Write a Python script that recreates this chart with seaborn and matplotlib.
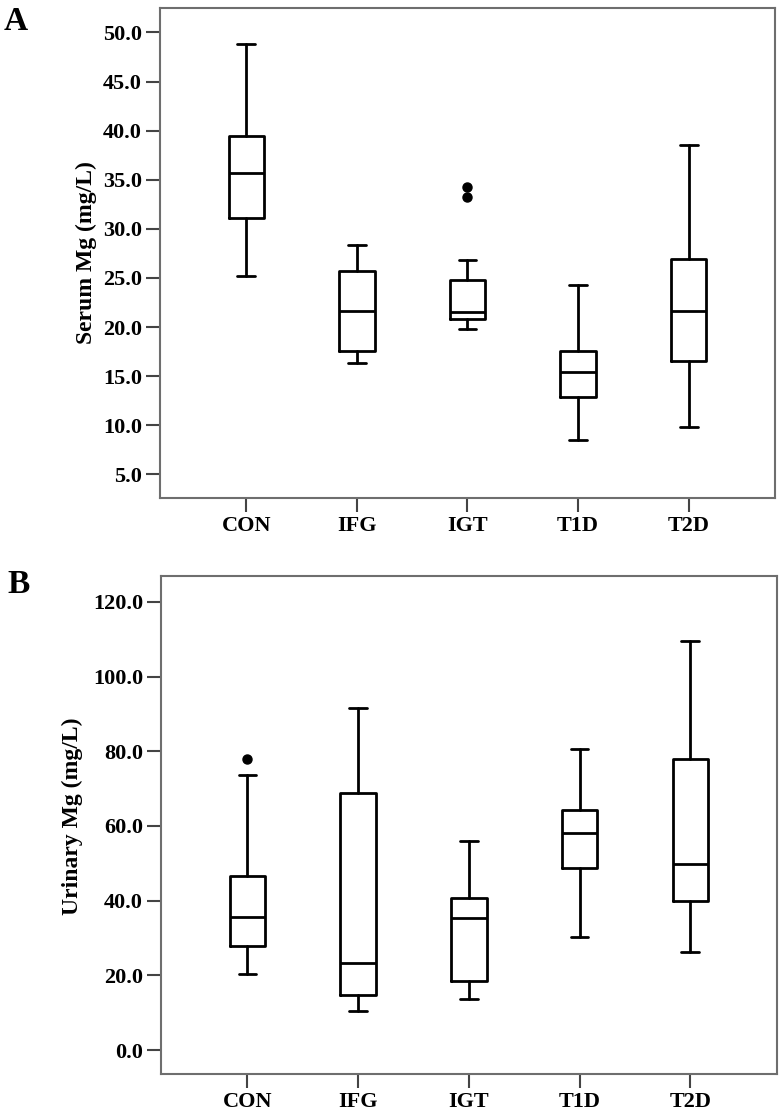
import matplotlib as mpl
mpl.use('Agg')
import matplotlib.pyplot as plt
import seaborn as sns
from matplotlib.ticker import FormatStrFormatter

groups = ['CON', 'IFG', 'IGT', 'T1D', 'T2D']

# panel A, serum Mg (mg/L): whisker low, Q1, median, Q3, whisker high
serum_low = [25.2, 16.3, 19.8, 8.5, 9.8]
serum_q1 = [31.1, 17.6, 20.8, 12.9, 16.5]
serum_med = [35.7, 21.6, 21.5, 15.4, 21.6]
serum_q3 = [39.5, 25.7, 24.8, 17.6, 26.9]
serum_high = [48.8, 28.4, 26.8, 24.3, 38.5]
serum_out = [[], [], [33.2, 34.3], [], []]

# panel B, urinary Mg (mg/L)
urine_low = [20.3, 10.4, 13.7, 30.3, 26.2]
urine_q1 = [27.8, 14.7, 18.5, 48.8, 39.9]
urine_med = [35.5, 23.2, 35.4, 58.0, 49.7]
urine_q3 = [46.7, 68.7, 40.6, 64.3, 77.9]
urine_high = [73.6, 91.6, 56.0, 80.5, 109.5]
urine_out = [[77.9], [], [], [], []]

sns.set_style('ticks')
plt.rcParams['font.family'] = ['Liberation Serif', 'DejaVu Serif']
plt.rcParams['font.weight'] = 'bold'
plt.rcParams['text.color'] = 'black'
plt.rcParams['axes.labelcolor'] = 'black'
plt.rcParams['xtick.labelcolor'] = 'black'
plt.rcParams['ytick.labelcolor'] = 'black'


def stats(lo, q1, med, q3, hi, out):
    return [dict(whislo=a, q1=b, med=c, q3=d, whishi=e, fliers=f, label=g)
            for a, b, c, d, e, f, g in zip(lo, q1, med, q3, hi, out, groups)]


def panel(ax, st, ticks, ylim, ylabel, label_xy):
    lw = 2.0
    ax.bxp(st, positions=range(len(groups)), widths=0.32, showfliers=True,
           boxprops=dict(color='black', linewidth=lw),
           whiskerprops=dict(color='black', linewidth=lw),
           capprops=dict(color='black', linewidth=lw),
           medianprops=dict(color='black', linewidth=lw),
           flierprops=dict(marker='o', markerfacecolor='black',
                           markeredgecolor='black', markersize=6.5))
    ax.set_xlim(-0.78, 4.78)
    ax.set_ylim(*ylim)
    ax.set_yticks(ticks)
    ax.yaxis.set_major_formatter(FormatStrFormatter('%.1f'))
    ax.set_xticks(range(len(groups)))
    ax.set_xticklabels(groups)
    for s in ax.spines.values():
        s.set_color('#6e6e6e')
        s.set_linewidth(1.5)
    ax.tick_params(direction='out', length=10, width=1.5, color='#444444',
                   labelsize=16, labelcolor='black', pad=3)
    for t in ax.get_xticklabels() + ax.get_yticklabels():
        t.set_fontweight('bold')
    ax.set_ylabel(ylabel, fontsize=17, fontweight='bold', color='black')
    ax.yaxis.set_label_coords(*label_xy)
    ax.set_xlabel('')


fig = plt.figure(figsize=(7.84, 11.17), dpi=100)
ax1 = fig.add_axes([0.2041, 0.5542, 0.7844, 0.4387])
ax2 = fig.add_axes([0.2054, 0.0382, 0.7853, 0.4461])

panel(ax1, stats(serum_low, serum_q1, serum_med, serum_q3, serum_high, serum_out),
      [5, 10, 15, 20, 25, 30, 35, 40, 45, 50], (2.6, 52.5), 'Serum Mg (mg/L)', (-0.102, 0.5))
panel(ax2, stats(urine_low, urine_q1, urine_med, urine_q3, urine_high, urine_out),
      [0, 20, 40, 60, 80, 100, 120], (-6.5, 126.9), 'Urinary Mg (mg/L)', (-0.127, 0.518))

fig.text(4 / 784, 1 - 6 / 1117, 'A', fontsize=24, fontweight='bold', va='top', ha='left')
fig.text(7 / 784, 1 - 569 / 1117, 'B', fontsize=24, fontweight='bold', va='top', ha='left')

fig.savefig('out.png', dpi=100)
plt.clf()
